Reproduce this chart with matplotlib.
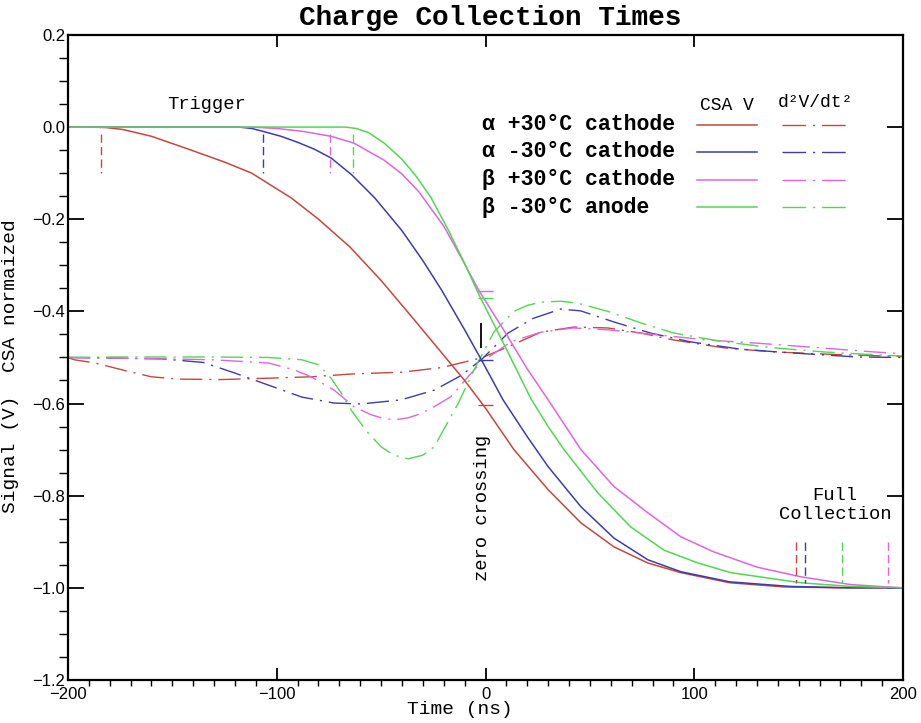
"""Charge collection times: normalized CSA output and its second derivative."""

import matplotlib

matplotlib.use("Agg")

import matplotlib.pyplot as plt  # noqa: E402
from matplotlib import font_manager  # noqa: E402
from matplotlib.ticker import MultipleLocator  # noqa: E402

# --- data ------------------------------------------------------------------
LABELS = ["α +30°C cathode", "α -30°C cathode", "β +30°C cathode", "β -30°C anode"]

# CSA V (solid)
RED_CSA_T = [-200, -190, -182, -174, -160, -141, -125, -112, -93, -80, -65, -50, -34, -21,
             -10, 0, 13.6, 30, 45.7, 61.5, 77.7, 93.5, 117, 143, 170, 200]
RED_CSA_V = [0, 0, -0.001, -0.005, -0.02, -0.05, -0.076, -0.10, -0.154, -0.20, -0.26, -0.333,
             -0.419, -0.49, -0.55, -0.61, -0.70, -0.787, -0.859, -0.911, -0.946, -0.967,
             -0.989, -0.998, -1.0, -1.0]

BLU_CSA_T = [-200, -118, -112, -106, -98, -90, -82, -74, -64, -53, -40, -30, -21, -10, -2,
             8.4, 20, 30, 45.7, 61.5, 77.7, 93.5, 117, 146, 175, 200]
BLU_CSA_V = [0, 0, -0.003, -0.01, -0.02, -0.033, -0.048, -0.067, -0.104, -0.154, -0.225,
             -0.29, -0.354, -0.44, -0.505, -0.592, -0.672, -0.737, -0.824, -0.892, -0.939,
             -0.965, -0.987, -0.997, -1.0, -1.0]

MAG_CSA_T = [-200, -112, -100, -88, -74, -63, -48.5, -40, -32, -20, -11.7, -3, 10, 20, 30,
             45.7, 61.5, 77.7, 93.5, 109.3, 130, 151, 175, 192, 200]
MAG_CSA_V = [0, 0, -0.003, -0.009, -0.02, -0.035, -0.072, -0.102, -0.14, -0.215, -0.283,
             -0.356, -0.45, -0.525, -0.592, -0.70, -0.78, -0.837, -0.889, -0.922, -0.955,
             -0.976, -0.993, -0.998, -1.0]

GRN_CSA_T = [-200, -67, -62, -56, -48.5, -40, -33, -26, -18, -10, -3, 10, 21.8, 30, 37.6,
             53.8, 69.6, 85.4, 101.7, 117.5, 151, 175, 200]
GRN_CSA_V = [0, 0, -0.003, -0.012, -0.035, -0.07, -0.108, -0.154, -0.222, -0.296, -0.365,
             -0.482, -0.59, -0.65, -0.70, -0.794, -0.868, -0.918, -0.946, -0.967, -0.989,
             -0.997, -1.0]

# d2V/dt2 (dash-dot), offset to -0.5
RED_D2_T = [-200, -197, -187, -174, -160, -147, -127, -104, -83.5, -64.4, -40.4, -21, -2,
            10.8, 26.6, 42.3, 58.6, 74.4, 90, 114, 138, 170, 200]
RED_D2_V = [-0.5, -0.505, -0.512, -0.527, -0.542, -0.547, -0.548, -0.545, -0.542, -0.536,
            -0.532, -0.522, -0.501, -0.477, -0.445, -0.434, -0.436, -0.447, -0.462, -0.479,
            -0.488, -0.494, -0.498]

BLU_D2_T = [-200, -155, -135, -120, -104, -88, -72.5, -59.6, -40.4, -24.6, -12, -2, 10.8, 23,
            36, 45.7, 61.5, 79, 98, 122, 146, 178, 200]
BLU_D2_V = [-0.5, -0.503, -0.511, -0.534, -0.56, -0.586, -0.599, -0.601, -0.592, -0.571,
            -0.54, -0.505, -0.447, -0.415, -0.395, -0.399, -0.423, -0.447, -0.466, -0.482,
            -0.49, -0.499, -0.5]

MAG_D2_T = [-200, -155, -131, -104, -91.6, -83.5, -72.5, -63, -55, -48.6, -43, -37, -31,
            -24.6, -16.5, -8, -2, 12.2, 26.6, 42, 58.6, 82.5, 106, 130, 154, 186, 200]
MAG_D2_V = [-0.5, -0.503, -0.505, -0.512, -0.527, -0.542, -0.571, -0.607, -0.624, -0.633,
            -0.635, -0.631, -0.622, -0.607, -0.585, -0.54, -0.51, -0.466, -0.445, -0.436,
            -0.44, -0.451, -0.462, -0.469, -0.477, -0.488, -0.492]

GRN_D2_T = [-200, -176, -133, -104, -88, -80, -74, -69, -64.4, -57, -50, -44, -37, -30,
            -24.6, -17.5, -13, -5.5, 4, 13.6, 20, 26.6, 36, 44, 58.6, 74.4, 90.2, 114, 138,
            162, 186, 200]
GRN_D2_V = [-0.5, -0.499, -0.499, -0.5, -0.505, -0.516, -0.545, -0.578, -0.614, -0.66,
            -0.694, -0.712, -0.72, -0.712, -0.694, -0.636, -0.599, -0.527, -0.445, -0.40,
            -0.387, -0.38, -0.378, -0.382, -0.40, -0.425, -0.447, -0.466, -0.479, -0.488,
            -0.494, -0.497]

# markers: trigger time, full-collection time, CSA value at t = 0
TRIGGER_T = [-184, -106.5, -74.5, -63.5]
FULL_T = [148.6, 152.9, 193, 171]
ZERO_V = [-0.603, -0.505, -0.355, -0.37]

COLORS = ["#c8463c", "#3c3cac", "#e064e0", "#50d850"]
MONO = "Liberation Mono"

_names = {f.name for f in font_manager.fontManager.ttflist}
TICK_FONT = "Liberation Sans Narrow" if "Liberation Sans Narrow" in _names else "Liberation Sans"

CSA = [(RED_CSA_T, RED_CSA_V), (BLU_CSA_T, BLU_CSA_V), (MAG_CSA_T, MAG_CSA_V), (GRN_CSA_T, GRN_CSA_V)]
D2 = [(RED_D2_T, RED_D2_V), (BLU_D2_T, BLU_D2_V), (MAG_D2_T, MAG_D2_V), (GRN_D2_T, GRN_D2_V)]
DASHDOT = (0, (16, 5, 1.5, 5))
DASHED = (0, (6, 3))


def main() -> None:
    fig = plt.figure(figsize=(9.21, 7.23), dpi=100)
    ax = fig.add_axes([0.0738, 0.0595, 0.9067, 0.8922])

    for (t, v), c in zip(D2, COLORS):
        ax.plot(t, v, color=c, lw=1.0, linestyle=DASHDOT)
    for (t, v), c in zip(CSA, COLORS):
        ax.plot(t, v, color=c, lw=1.1)

    ax.vlines(TRIGGER_T, -0.015, -0.1, colors=COLORS, lw=1.0, linestyles=DASHED)
    ax.vlines(FULL_T, -0.90, -0.99, colors=COLORS, lw=1.0, linestyles=DASHED)
    ax.hlines(ZERO_V, -3.5, 3.5, colors=COLORS, lw=1.0)
    ax.vlines([-2], -0.425, -0.48, colors="black", lw=1.3)

    ax.text(-133.5, 0.05, "Trigger", family=MONO, fontsize=13.5, ha="center", va="center")
    ax.text(167.5, -0.82, "Full\nCollection", family=MONO, fontsize=13.5, ha="center",
            va="center", linespacing=1.15)
    ax.text(-1.5, -0.826, "zero crossing", family=MONO, fontsize=13.5, rotation=90,
            ha="center", va="center")

    # legend: labels, solid samples, dash-dot samples
    rows = [0.8605, 0.8186, 0.7752, 0.7333]
    for y, lab, c in zip(rows, LABELS, COLORS):
        ax.text(0.4964, y, lab, transform=ax.transAxes, family=MONO, fontsize=15.5,
                fontweight="bold", ha="left", va="center")
        ax.plot([0.7536, 0.8254], [y, y], transform=ax.transAxes, color=c, lw=1.1)
        ax.plot([0.8553, 0.9342], [y, y], transform=ax.transAxes, color=c, lw=1.0,
                linestyle=(0, (17, 5, 1.5, 5)))
    ax.text(0.7895, 0.890, "CSA V", transform=ax.transAxes, family=MONO, fontsize=13,
            ha="center", va="center")
    ax.text(0.8945, 0.895, "d²V/dt²", transform=ax.transAxes, family=MONO, fontsize=13,
            ha="center", va="center")

    ax.set_xlim(-200, 200)
    ax.set_ylim(-1.2, 0.2)
    ax.xaxis.set_major_locator(MultipleLocator(100))
    ax.xaxis.set_minor_locator(MultipleLocator(10))
    ax.yaxis.set_major_locator(MultipleLocator(0.2))
    ax.yaxis.set_minor_locator(MultipleLocator(0.05))
    ax.yaxis.set_major_formatter(lambda v, _pos: f"{v:.1f}".replace("-", "\u2212"))
    ax.tick_params(direction="in", top=True, right=True, width=1.3)
    ax.tick_params(axis="x", which="major", length=8.5, pad=5)
    ax.tick_params(axis="x", which="minor", length=4, width=1.0)
    ax.tick_params(axis="y", which="major", length=11.5, pad=2)
    ax.tick_params(axis="y", which="minor", length=6.5, width=1.0)
    for lab in ax.get_xticklabels() + ax.get_yticklabels():
        lab.set_family(TICK_FONT)
        lab.set_fontsize(12)
    for sp in ax.spines.values():
        sp.set_linewidth(1.6)

    ax.set_xlabel("Time (ns)", family=MONO, fontsize=14)
    ax.xaxis.set_label_coords(0.469, -0.032)
    ax.set_ylabel("Signal (V)  CSA normaized", family=MONO, fontsize=14)
    ax.yaxis.set_label_coords(-0.0586, 0.487)

    fig.text(0.532, 0.975, "Charge Collection Times", family=MONO, fontsize=20,
             fontweight="bold", ha="center", va="center")

    fig.savefig("out.png", dpi=100)
    plt.close(fig)


if __name__ == "__main__":
    main()
